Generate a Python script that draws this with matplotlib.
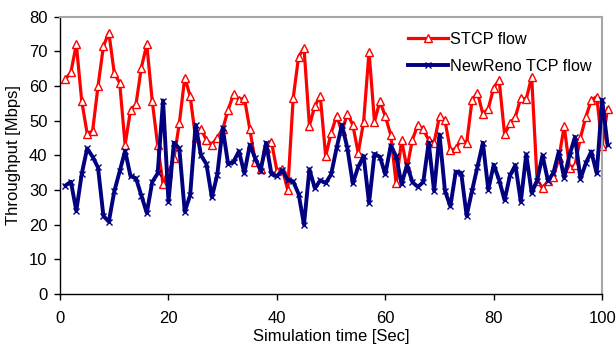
import numpy as np
import matplotlib
matplotlib.use("Agg")
import matplotlib.pyplot as plt

plt.rcParams['font.family'] = ['Liberation Sans', 'DejaVu Sans']

# simulation time (s), one sample per second
time_s = np.arange(1, 102)

stcp = [62.0, 64.0, 72.0, 55.6, 46.3, 47.0, 59.9, 71.5, 75.4, 63.7,
        60.9, 43.0, 53.1, 54.7, 65.3, 72.0, 55.7, 43.0, 31.6, 35.0,
        39.1, 49.2, 62.4, 57.1, 45.0, 47.6, 44.4, 43.1, 45.1, 47.5,
        53.1, 57.6, 56.1, 56.5, 47.6, 38.2, 36.2, 42.2, 43.9, 35.6,
        36.1, 30.0, 56.4, 68.4, 71.0, 48.6, 54.2, 57.2, 39.7, 46.4,
        51.3, 46.9, 52.0, 48.8, 40.7, 49.7, 69.9, 49.7, 55.6, 51.3,
        45.9, 31.9, 44.3, 36.3, 44.5, 48.8, 47.5, 44.4, 43.7, 51.3,
        50.1, 41.4, 42.0, 44.6, 43.5, 55.9, 58.1, 51.9, 53.5, 59.5,
        61.7, 46.1, 49.2, 51.1, 56.6, 56.2, 62.7, 32.7, 30.5, 32.6,
        33.8, 39.1, 48.4, 36.3, 37.2, 45.1, 51.1, 55.9, 56.9, 42.7,
        53.5]

newreno = [31.3, 32.4, 24.0, 34.7, 42.0, 39.6, 36.5, 22.5, 20.9, 29.6,
           35.4, 41.3, 34.0, 33.4, 28.4, 23.4, 32.3, 34.8, 55.8, 26.6,
           43.6, 42.0, 23.8, 28.5, 48.8, 40.0, 37.5, 27.9, 34.4, 47.9,
           37.5, 38.2, 41.2, 34.8, 43.0, 39.2, 35.6, 43.6, 34.6, 34.0,
           35.7, 32.9, 32.5, 28.9, 20.0, 36.0, 30.5, 32.8, 32.0, 34.5,
           42.0, 48.8, 42.1, 31.9, 36.7, 39.8, 26.2, 40.4, 39.6, 34.5,
           42.8, 39.7, 31.7, 37.2, 32.3, 30.9, 32.3, 43.7, 29.7, 46.0,
           29.8, 25.3, 35.3, 35.0, 22.6, 29.8, 36.7, 43.6, 30.1, 37.3,
           32.9, 27.1, 34.2, 37.2, 26.6, 40.3, 29.2, 32.7, 40.0, 32.7,
           34.9, 41.0, 33.5, 40.2, 45.3, 33.2, 37.8, 41.1, 34.8, 56.0,
           43.0]

fig = plt.figure(figsize=(6.16, 3.46), dpi=100)
ax = fig.add_axes([0.0975, 0.150, 0.880, 0.802])

ax.plot(time_s, stcp, color='#ff0000', lw=2.3, marker='^', ms=6,
        mfc='white', mec='#ff0000', mew=1.0, label='STCP flow',
        clip_on=False, zorder=2)
ax.plot(time_s, newreno, color='#000080', lw=2.8, marker='x', ms=5,
        mec='#000080', mew=1.0, label='NewReno TCP flow',
        clip_on=False, zorder=3)

ax.set_xlim(0, 100)
ax.set_ylim(0, 80)
ax.set_xticks(np.arange(0, 101, 20))
ax.set_yticks(np.arange(0, 81, 10))
ax.tick_params(direction='out', length=4, width=1, labelsize=12)
ax.tick_params(axis='x', pad=8)
ax.tick_params(axis='y', pad=5)

for side in ('left', 'bottom'):
    ax.spines[side].set_color('black')
    ax.spines[side].set_linewidth(1.0)
for side in ('top', 'right'):
    ax.spines[side].set_color('#a6a6a6')
    ax.spines[side].set_linewidth(1.5)

ax.set_xlabel('Simulation time [Sec]', fontsize=12, labelpad=2)
ax.set_ylabel('Throughput [Mbps]', fontsize=12, labelpad=6)

ax.legend(loc='upper left', bbox_to_anchor=(0.62, 0.985), frameon=False,
          fontsize=11.7, handlelength=2.5, handletextpad=0.1,
          labelspacing=0.7, borderpad=0.2)

fig.savefig('out.png', dpi=100)
